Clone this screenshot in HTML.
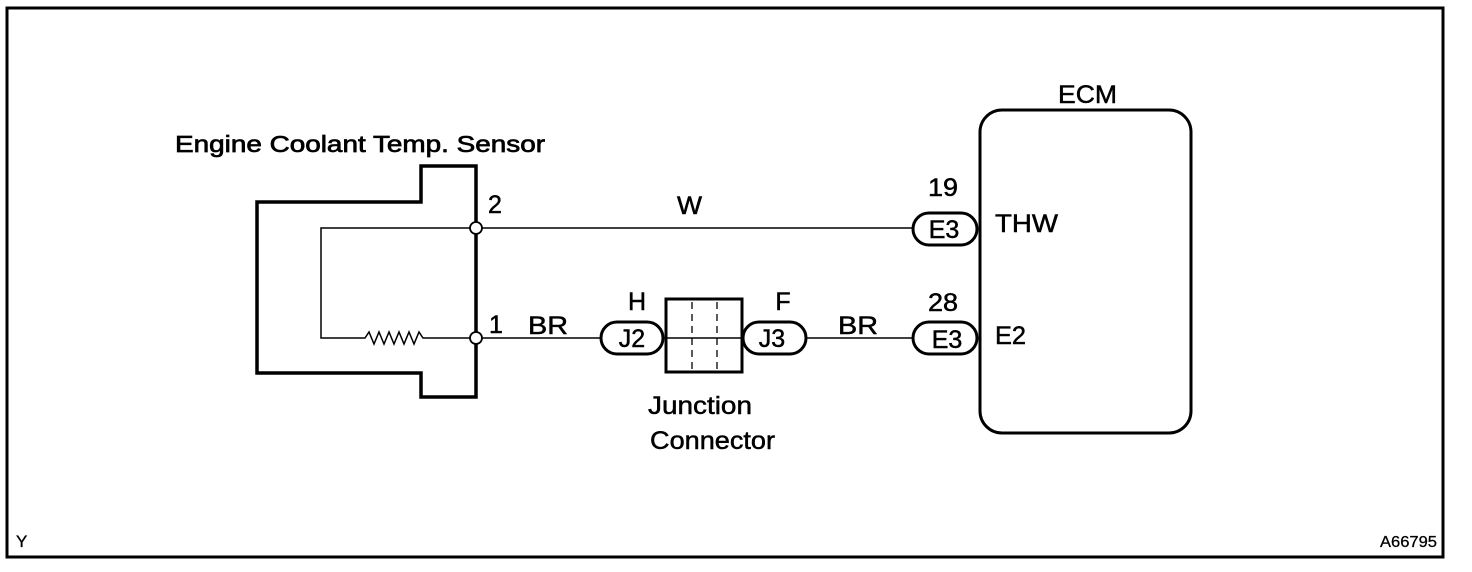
<!DOCTYPE html>
<html><head><meta charset="utf-8"><style>
html,body{margin:0;padding:0;background:#fff;}
svg{display:block;}
text{font-family:"Liberation Sans",Arial,sans-serif;fill:#000;stroke:#000;stroke-width:0.5;}
</style></head><body>
<svg width="1472" height="572" viewBox="0 0 1472 572" xmlns="http://www.w3.org/2000/svg">
<rect x="7" y="8" width="1436" height="549" fill="none" stroke="#000" stroke-width="3"/>
<text x="175" y="152" font-size="23" textLength="370" lengthAdjust="spacingAndGlyphs" style="stroke-width:0.7">Engine Coolant Temp. Sensor</text>
<!-- sensor body -->
<path d="M476 228 V166 H421 V202 H257 V373 H421 V397 H476 V338" fill="none" stroke="#000" stroke-width="3.5"/>
<line x1="476" y1="228" x2="476" y2="338" stroke="#000" stroke-width="3.5"/>
<path d="M476 228 H321 V338 H365 l4 -6 l5 12 l5 -12 l5 12 l5 -12 l5 12 l5 -12 l5 12 l5 -12 l5 12 l5 -12 l4 6 H476" fill="none" stroke="#000" stroke-width="1.5"/>
<circle cx="476" cy="228" r="6" fill="#fff" stroke="#000" stroke-width="1.8"/>
<circle cx="476" cy="338" r="6" fill="#fff" stroke="#000" stroke-width="1.8"/>
<text x="488" y="213" font-size="25">2</text>
<text x="489" y="333" font-size="25">1</text>
<text x="528" y="334" font-size="25" textLength="40" lengthAdjust="spacingAndGlyphs">BR</text>
<text x="677" y="214" font-size="25" textLength="25" lengthAdjust="spacingAndGlyphs">W</text>
<!-- wires -->
<line x1="482" y1="228" x2="914" y2="228" stroke="#000" stroke-width="1.5"/>
<line x1="482" y1="338" x2="602" y2="338" stroke="#000" stroke-width="1.5"/>
<line x1="806" y1="338" x2="914" y2="338" stroke="#000" stroke-width="1.5"/>
<!-- J2 -->
<rect x="601" y="322" width="62" height="32" rx="16" fill="#fff" stroke="#000" stroke-width="3"/>
<text x="632" y="347" font-size="25" text-anchor="middle">J2</text>
<text x="637" y="310" font-size="25" text-anchor="middle">H</text>
<!-- junction box -->
<rect x="666" y="299" width="76" height="73" fill="#fff" stroke="#000" stroke-width="3"/>
<line x1="666" y1="338" x2="742" y2="338" stroke="#000" stroke-width="1.5"/>
<line x1="692" y1="302" x2="692" y2="370" stroke="#000" stroke-width="1.3" stroke-dasharray="7 5"/>
<line x1="717" y1="302" x2="717" y2="370" stroke="#000" stroke-width="1.3" stroke-dasharray="7 5"/>
<!-- J3 -->
<rect x="743" y="322" width="63" height="32" rx="16" fill="#fff" stroke="#000" stroke-width="3"/>
<text x="772" y="347" font-size="25" text-anchor="middle">J3</text>
<text x="783" y="310" font-size="25" text-anchor="middle">F</text>
<text x="648" y="414" font-size="25" textLength="104" lengthAdjust="spacingAndGlyphs">Junction</text>
<text x="650" y="449" font-size="25" textLength="125" lengthAdjust="spacingAndGlyphs">Connector</text>
<text x="838" y="334" font-size="25" textLength="40" lengthAdjust="spacingAndGlyphs">BR</text>
<!-- ECM -->
<rect x="980" y="110" width="211" height="323" rx="22" fill="#fff" stroke="#000" stroke-width="3"/>
<text x="1058" y="103" font-size="25" textLength="59" lengthAdjust="spacingAndGlyphs">ECM</text>
<rect x="913" y="213" width="64" height="32" rx="16" fill="#fff" stroke="#000" stroke-width="3"/>
<text x="944" y="238" font-size="25" text-anchor="middle">E3</text>
<text x="928" y="196" font-size="25" textLength="30" lengthAdjust="spacingAndGlyphs">19</text>
<text x="995" y="232" font-size="25" textLength="63" lengthAdjust="spacingAndGlyphs">THW</text>
<rect x="913" y="322" width="64" height="32" rx="16" fill="#fff" stroke="#000" stroke-width="3"/>
<text x="947" y="348" font-size="25" text-anchor="middle">E3</text>
<text x="928" y="311" font-size="25" textLength="30" lengthAdjust="spacingAndGlyphs">28</text>
<text x="995" y="344" font-size="25" textLength="31" lengthAdjust="spacingAndGlyphs">E2</text>
<text x="16" y="547" font-size="17" style="stroke-width:0.3">Y</text>
<text x="1380" y="547" font-size="16" textLength="57" lengthAdjust="spacingAndGlyphs" style="stroke-width:0.3">A66795</text>
</svg>
</body></html>
